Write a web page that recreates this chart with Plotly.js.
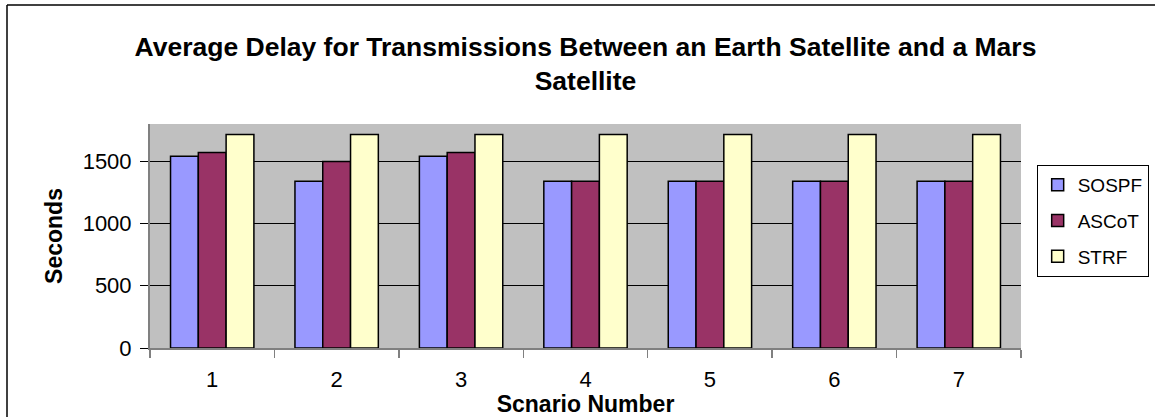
<!DOCTYPE html>
<html>
<head>
<meta charset="utf-8">
<script src="https://cdn.plot.ly/plotly-3.0.1.min.js"></script>
<style>html,body{margin:0;padding:0;background:#fff;}</style>
</head>
<body>
<div id="chart" style="width:1155px;height:417px;"></div>
<script>
var scenarios = ['1', '2', '3', '4', '5', '6', '7'];
var sospf = [1541, 1340, 1541, 1340, 1340, 1340, 1340];
var ascot = [1571, 1498, 1571, 1340, 1340, 1340, 1340];
var strf  = [1715, 1715, 1715, 1715, 1715, 1715, 1715];
var seriesNames = ['SOSPF', 'ASCoT', 'STRF'];
var seriesColors = ['#9999FF', '#993366', '#FFFFCC'];
var seriesValues = [sospf, ascot, strf];

var traces = seriesValues.map(function (vals, i) {
  return {
    type: 'bar',
    name: seriesNames[i],
    x: scenarios,
    y: vals,
    legendgroup: seriesNames[i],
    marker: { color: seriesColors[i], line: { color: '#000000', width: 1.5 } }
  };
});

var F = 'Liberation Sans, Arial, sans-serif';
var layout = {
  width: 1155, height: 417,
  margin: { l: 150, r: 134, t: 124, b: 69, autoexpand: false },
  paper_bgcolor: '#ffffff',
  plot_bgcolor: '#C0C0C0',
  font: { family: F, color: '#000000', size: 22 },
  title: {
    text: '<b>Average Delay for Transmissions Between an Earth Satellite and a Mars<br>Satellite</b>',
    font: { family: F, size: 26.5, color: '#000000' },
    x: 0.5, xanchor: 'center', xref: 'paper',
    yref: 'container', y: 1 - 56 / 417, yanchor: 'top'
  },
  bargap: 0.33, bargroupgap: 0,
  barmode: 'group',
  xaxis: {
    type: 'category',
    tickson: 'boundaries',
    ticks: 'outside', ticklen: 8, tickcolor: '#808080', tickwidth: 1.5,
    showline: true, linecolor: '#808080', linewidth: 2,
    showgrid: false,
    tickfont: { size: 22 },
    ticklabelstandoff: 11,
    title: { text: '<b>Scnario Number</b>', font: { size: 23 }, standoff: 0 },
    automargin: true
  },
  yaxis: {
    range: [0, 1800],
    tickvals: [0, 500, 1000, 1500],
    ticks: 'outside', ticklen: 8, tickcolor: '#000000', tickwidth: 1,
    showline: true, linecolor: '#808080', linewidth: 2,
    showgrid: true, gridcolor: '#000000', gridwidth: 1,
    zeroline: false,
    tickfont: { size: 22 },
    ticklabelstandoff: 4,
    title: { text: '<b>Seconds</b>', font: { size: 23 }, standoff: 14 },
    automargin: false
  },
  showlegend: true,
  legend: {
    x: 1.018, xanchor: 'left', y: 0.817, yanchor: 'top',
    bgcolor: '#ffffff', bordercolor: '#000000', borderwidth: 1,
    font: { size: 19 },
    tracegroupgap: 8,
    itemwidth: 30
  },
  shapes: [
    { type: 'line', xref: 'paper', yref: 'paper', x0: (7 - 150) / 871, x1: (1160 - 150) / 871,
      y0: (348 - 5) / 224, y1: (348 - 5) / 224, line: { color: '#000000', width: 1.5 } },
    { type: 'line', xref: 'paper', yref: 'paper', x0: (7 - 150) / 871, x1: (7 - 150) / 871,
      y0: (348 - 5) / 224, y1: (348 - 420) / 224, line: { color: '#000000', width: 1.5 } }
  ]
};

Plotly.newPlot('chart', traces, layout, { displayModeBar: false, staticPlot: true });
</script>
</body>
</html>
